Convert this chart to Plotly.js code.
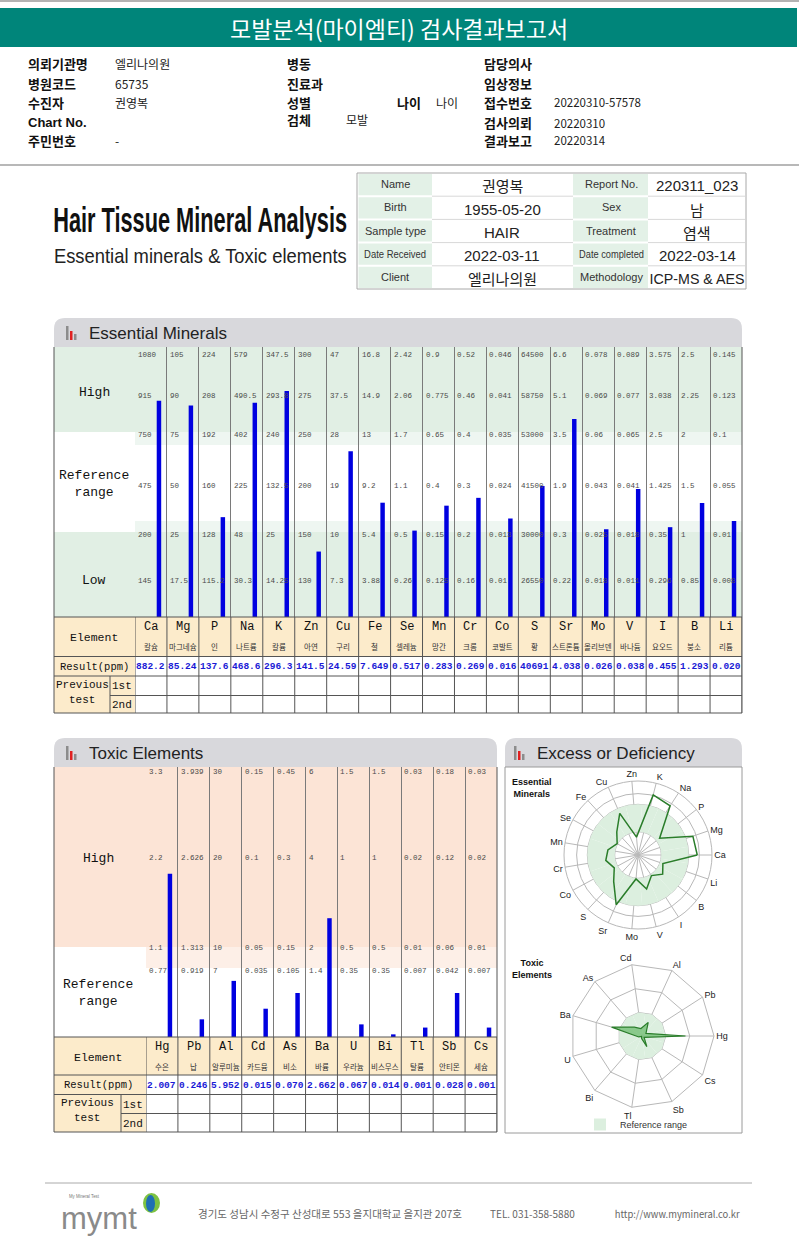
<!DOCTYPE html>
<html><head><meta charset="utf-8">
<script src="https://cdn.plot.ly/plotly-3.0.1.min.js"></script>
<style>html,body{margin:0;padding:0;background:#fff;overflow:hidden}#chart{width:799px;height:1241px}</style>
</head><body><div id="chart"></div>
<script>
// ---------------- DATA ----------------
const ESS_ELEMENTS = ['Ca','Mg','P','Na','K','Zn','Cu','Fe','Se','Mn','Cr','Co','S','Sr','Mo','V','I','B','Li'];
const ESS_NAMES_KR = ['칼슘','마그네슘','인','나트륨','칼륨','아연','구리','철','셀레늄','망간','크롬','코발트','황','스트론튬','몰리브덴','바나듐','요오드','붕소','리튬'];
const ESS_RESULT = [882.2,85.24,137.6,468.6,296.3,141.5,24.59,7.649,0.517,0.283,0.269,0.016,40691,4.038,0.026,0.038,0.455,1.293,0.020];
const ESS_LOW      = [145,17.5,115.2,30.3,14.25,130,7.3,3.88,0.26,0.125,0.16,0.01,26550,0.22,0.018,0.011,0.296,0.85,0.008];
const ESS_REF_LOW  = [200,25,128,48,25,150,10,5.4,0.5,0.15,0.2,0.013,30000,0.3,0.025,0.018,0.35,1,0.01];
const ESS_MID      = [475,50,160,225,132.5,200,19,9.2,1.1,0.4,0.3,0.024,41500,1.9,0.043,0.041,1.425,1.5,0.055];
const ESS_REF_HIGH = [750,75,192,402,240,250,28,13,1.7,0.65,0.4,0.035,53000,3.5,0.06,0.065,2.5,2,0.1];
const ESS_HIGH     = [915,90,208,490.5,293.8,275,37.5,14.9,2.06,0.775,0.46,0.041,58750,5.1,0.069,0.077,3.038,2.25,0.123];
const ESS_TOP      = [1080,105,224,579,347.5,300,47,16.8,2.42,0.9,0.52,0.046,64500,6.6,0.078,0.089,3.575,2.5,0.145];

const TOX_ELEMENTS = ['Hg','Pb','Al','Cd','As','Ba','U','Bi','Tl','Sb','Cs'];
const TOX_NAMES_KR = ['수은','납','알루미늄','카드뮴','비소','바륨','우라늄','비스무스','탈륨','안티몬','세슘'];
const TOX_RESULT = [2.007,0.246,5.952,0.015,0.070,2.662,0.067,0.014,0.001,0.028,0.001];
const TOX_REF    = [0.77,0.919,7,0.035,0.105,1.4,0.35,0.35,0.007,0.042,0.007];
const TOX_LIMIT  = [1.1,1.313,10,0.05,0.15,2,0.5,0.5,0.01,0.06,0.01];
const TOX_HIGH   = [2.2,2.626,20,0.1,0.3,4,1,1,0.02,0.12,0.02];
const TOX_TOP    = [3.3,3.939,30,0.15,0.45,6,1.5,1.5,0.03,0.18,0.03];

const INFO_LEFT_LABELS = ['의뢰기관명','병원코드','수진자','Chart No.','주민번호'];
const INFO_LEFT_VALUES = ['엘리나의원','65735','권영복','','-'];
const INFO_MID_LABELS = ['병동','진료과','성별','검체'];
const INFO_RIGHT_LABELS = ['담당의사','임상정보','접수번호','검사의뢰','결과보고'];
const INFO_RIGHT_VALUES = ['','','20220310-57578','20220310','20220314'];
const BOX_LABELS_1 = ['Name','Birth','Sample type','Date Received','Client'];
const BOX_VALUES_1 = ['권영복','1955-05-20','HAIR','2022-03-11','엘리나의원'];
const BOX_LABELS_2 = ['Report No.','Sex','Treatment','Date completed','Methodology'];
const BOX_VALUES_2 = ['220311_023','남','염색','2022-03-14','ICP-MS & AES'];

// ---------------- LAYOUT HELPERS ----------------
const W=799,H=1241;
const PX=x=>x/W, PY=y=>1-y/H;
const KR='"Noto Sans CJK KR", sans-serif';
const SANS='"Liberation Sans", Arial, sans-serif';
const MONO='"Liberation Mono", "DejaVu Sans Mono", monospace';
const shapes=[], ann=[];
const SQUEEZE={}; // text -> target pixel width (condensed fonts are not installed)
function rect(x0,y0,x1,y1,fill,line,lw,layer){
  shapes.push({type:'rect',xref:'paper',yref:'paper',x0:PX(x0),x1:PX(x1),y0:PY(y1),y1:PY(y0),
    fillcolor:fill||'rgba(0,0,0,0)',line:{color:line||'rgba(0,0,0,0)',width:line?(lw||1):0},layer:layer||'below'});
}
function hline(x0,x1,y,color,w){shapes.push({type:'line',xref:'paper',yref:'paper',x0:PX(x0),x1:PX(x1),y0:PY(y),y1:PY(y),line:{color:color,width:w||1},layer:'above'});}
function vline(x,y0,y1,color,w){shapes.push({type:'line',xref:'paper',yref:'paper',x0:PX(x),x1:PX(x),y0:PY(y0),y1:PY(y1),line:{color:color,width:w||1},layer:'above'});}
function txt(x,y,t,o){o=o||{};ann.push({xref:'paper',yref:'paper',x:PX(x),y:PY(y),text:t,showarrow:false,
  xanchor:o.xa||'left',yanchor:o.ya||'middle',borderpad:0,font:{family:o.f||KR,size:o.s||12,color:o.c||'#222',weight:o.w||'normal'}});}
function roundTop(x0,y0,x1,y1,r,fill){
  const p=`M${PX(x0)},${PY(y1)} L${PX(x0)},${PY(y0+r)} Q${PX(x0)},${PY(y0)} ${PX(x0+r)},${PY(y0)} L${PX(x1-r)},${PY(y0)} Q${PX(x1)},${PY(y0)} ${PX(x1)},${PY(y0+r)} L${PX(x1)},${PY(y1)} Z`;
  shapes.push({type:'path',xref:'paper',yref:'paper',path:p,fillcolor:fill,line:{width:0},layer:'below'});
}
function icon(x,y){
  rect(x,y,x+2.5,y+14,'#8c8c8c');
  rect(x+4,y+5,x+6.5,y+14,'#e02020');
  rect(x+8,y+8,x+10.5,y+14,'#8c8c8c');
}
function fmt(v){ if(v>=10000) return v.toFixed(0); if(v>=100) return v.toFixed(1); if(v>=10) return v.toFixed(2); return v.toFixed(3); }
function toPos(v,levels,pos){
  for(let i=0;i<levels.length-1;i++){ if(v<=levels[i+1]) return pos[i]+(v-levels[i])/(levels[i+1]-levels[i])*(pos[i+1]-pos[i]); }
  return pos[pos.length-1];
}
// vertical scale: pixel height above the chart floor for each reference level
const ESS_LEVEL_POS=[0,39,85,134.5,185,224,267];
const TOX_LEVEL_POS=[0,66,89,179,270];
const essPos=ESS_ELEMENTS.map((e,i)=>toPos(ESS_RESULT[i],[0,ESS_LOW[i],ESS_REF_LOW[i],ESS_MID[i],ESS_REF_HIGH[i],ESS_HIGH[i],ESS_TOP[i]],ESS_LEVEL_POS));
const toxPos=TOX_ELEMENTS.map((e,i)=>toPos(TOX_RESULT[i],[0,TOX_REF[i],TOX_LIMIT[i],TOX_HIGH[i],TOX_TOP[i]],TOX_LEVEL_POS));

// ---------------- PAGE HEADER ----------------
hline(0,799,1,'#9a9a9a',1.5);
rect(0,8,797,47,'#00857a');
txt(399,28,'모발분석(마이엠티) 검사결과보고서',{xa:'center',s:23,c:'#ffffff'});
const ROW_Y=[64,83,102,123,140];
INFO_LEFT_LABELS.forEach((l,i)=>{txt(27,ROW_Y[i],l,{s:13,c:'#111',w:'bold',f:i===3?SANS:KR}); if(INFO_LEFT_VALUES[i]) txt(114,ROW_Y[i],INFO_LEFT_VALUES[i],{s:12,c:'#222'});});
[64,83,102,120].forEach((y,i)=>txt(286,y,INFO_MID_LABELS[i],{s:13,c:'#111',w:'bold'}));
txt(396,102,'나이',{s:13,c:'#111',w:'bold'}); txt(435,102,'나이',{s:12});
txt(345,120,'모발',{s:12});
INFO_RIGHT_LABELS.forEach((l,i)=>{txt(483,ROW_Y[i],l,{s:13,c:'#111',w:'bold'}); if(INFO_RIGHT_VALUES[i]) txt(553,ROW_Y[i],INFO_RIGHT_VALUES[i],{s:11.5,c:'#222'});});
hline(0,799,165,'#a0a0a0',1.5);

// ---------------- TITLE + INFO BOX ----------------
txt(200,219,'Hair Tissue Mineral Analysis',{xa:'center',s:36,c:'#111',f:SANS,w:'bold'}); SQUEEZE['Hair Tissue Mineral Analysis']=294;
txt(200,256,'Essential minerals &amp; Toxic elements',{xa:'center',s:20,c:'#222',f:SANS}); SQUEEZE['Essential minerals & Toxic elements']=293;
rect(357,173,746,289,'#ffffff','#a8a8a8',1);
SQUEEZE['Date Received']=62; SQUEEZE['Date completed']=65;
for(let r=0;r<5;r++){
  const y0=173+r*23.2, y1=y0+23.2;
  rect(358.5,y0+1,432,y1-1,'#e3f1e7');
  rect(573,y0+1,648,y1-1,'#e3f1e7');
  if(r>0){hline(432,573,y0,'#d8d8d8',1); hline(648,745,y0,'#d8d8d8',1);}
  txt(395,y0+11.2,BOX_LABELS_1[r],{xa:'center',s:11,c:'#333',f:SANS});
  txt(611,y0+11.2,BOX_LABELS_2[r],{xa:'center',s:11,c:'#333',f:SANS});
  txt(502,y0+13,BOX_VALUES_1[r],{xa:'center',s:15,c:'#222',f:/[가-힣]/.test(BOX_VALUES_1[r])?KR:SANS});
  txt(697,y0+13,BOX_VALUES_2[r],{xa:'center',s:15,c:'#222',f:/[가-힣]/.test(BOX_VALUES_2[r])?KR:SANS});
}
SQUEEZE['220311_023']=91; SQUEEZE['2022-03-14']=90; SQUEEZE['ICP-MS & AES']=95;
SQUEEZE['1955-05-20']=82; SQUEEZE['2022-03-11']=82;

// ---------------- ESSENTIAL MINERALS PANEL ----------------
const EL=54, ER=742, ECL=135, ETOP=347, EBOT=617;
roundTop(EL,318,ER,347,11,'#d8d8dc');
icon(66,326);
txt(88,334,'Essential Minerals',{s:17,c:'#222',f:SANS});
rect(EL,ETOP,ECL,432,'#e1efe4'); rect(EL,532,ECL,EBOT,'#e1efe4');
rect(ECL,ETOP,ER,432,'#e1efe4'); rect(ECL,432,ER,445,'#eef6f1');
rect(ECL,521,ER,532,'#eef6f1'); rect(ECL,532,ER,EBOT,'#e1efe4');
txt(94,393,'High',{xa:'center',s:13,f:MONO,c:'#111'});
txt(94,484,'Reference<br>range',{xa:'center',s:13,f:MONO,c:'#111'});
txt(94,580,'Low',{xa:'center',s:13,f:MONO,c:'#111'});
const essLevels=[ESS_LOW,ESS_REF_LOW,ESS_MID,ESS_REF_HIGH,ESS_HIGH,ESS_TOP];
ESS_ELEMENTS.forEach((e,i)=>{
  essLevels.forEach((arr,k)=>{
    ann.push({xref:'x',yref:'y',x:e,y:ESS_LEVEL_POS[k+1],xshift:-15,yshift:k===5?-5:-3,xanchor:'left',yanchor:'middle',showarrow:false,
      text:String(arr[i]),font:{family:MONO,size:7.5,color:'#4a4a4a'}});
  });
});
rect(EL,EBOT,ECL,713,'#fcebcb'); rect(ECL,EBOT,ER,656.5,'#fcebcb');
ESS_ELEMENTS.forEach((e,i)=>{
  ann.push({xref:'x',yref:'paper',x:e,y:PY(627),showarrow:false,text:e,font:{family:MONO,size:12,color:'#111'},yanchor:'middle'});
  ann.push({xref:'x',yref:'paper',x:e,y:PY(646),showarrow:false,text:ESS_NAMES_KR[i],font:{family:KR,size:7.5,color:'#333'},yanchor:'middle'});
  ann.push({xref:'x',yref:'paper',x:e,y:PY(666.5),showarrow:false,text:fmt(ESS_RESULT[i]),font:{family:MONO,size:9.5,color:'#1a1ad6',weight:'bold'},yanchor:'middle'});
});
for(let i=0;i<=ESS_ELEMENTS.length;i++){
  shapes.push({type:'line',xref:'x',yref:'paper',x0:i-0.5,x1:i-0.5,y0:PY(713),y1:PY(EBOT),line:{color:'#555',width:1},layer:'above'});
}
hline(EL,ER,EBOT,'#555'); hline(EL,ER,656.5,'#555'); hline(EL,ER,676,'#555'); hline(110,ER,695.5,'#555'); hline(EL,ER,713,'#555');
vline(EL,ETOP,713,'#555'); vline(ER,ETOP,713,'#555'); vline(110,676,713,'#555');
txt(94,637,'Element',{xa:'center',s:11.5,f:MONO,c:'#111'});
txt(94,666.5,'Result(ppm)',{xa:'center',s:10.5,f:MONO,c:'#111'});
txt(82,685,'Previous',{xa:'center',s:11,f:MONO,c:'#111'});
txt(82,700,'test',{xa:'center',s:11,f:MONO,c:'#111'});
txt(122,686,'1st',{xa:'center',s:11,f:MONO,c:'#111'});
txt(122,705,'2nd',{xa:'center',s:11,f:MONO,c:'#111'});

// ---------------- TOXIC ELEMENTS PANEL ----------------
const TL=54, TR=497, TCL=146, TTOP=767, TBOT=1037;
roundTop(TL,738,TR,767,11,'#d8d8dc');
icon(66,746);
txt(88,753,'Toxic Elements',{s:17,c:'#222',f:SANS});
rect(TL,TTOP,TCL,947,'#fce4d6');
rect(TCL,TTOP,TR,947,'#fce4d6'); rect(TCL,947,TR,968,'#fdefe7');
txt(98,858,'High',{xa:'center',s:13,f:MONO,c:'#111'});
txt(98,993,'Reference<br>range',{xa:'center',s:13,f:MONO,c:'#111'});
const toxLevels=[TOX_REF,TOX_LIMIT,TOX_HIGH,TOX_TOP];
TOX_ELEMENTS.forEach((e,i)=>{
  toxLevels.forEach((arr,k)=>{
    ann.push({xref:'x2',yref:'y2',x:e,y:TOX_LEVEL_POS[k+1],xshift:-15,yshift:k===3?-5:0,xanchor:'left',yanchor:'middle',showarrow:false,
      text:String(arr[i]),font:{family:MONO,size:7.5,color:'#4a4a4a'}});
  });
});
rect(TL,TBOT,TCL,1132,'#fcebcb'); rect(TCL,TBOT,TR,1075,'#fcebcb');
TOX_ELEMENTS.forEach((e,i)=>{
  ann.push({xref:'x2',yref:'paper',x:e,y:PY(1047),showarrow:false,text:e,font:{family:MONO,size:12,color:'#111'},yanchor:'middle'});
  ann.push({xref:'x2',yref:'paper',x:e,y:PY(1066),showarrow:false,text:TOX_NAMES_KR[i],font:{family:KR,size:7.5,color:'#333'},yanchor:'middle'});
  ann.push({xref:'x2',yref:'paper',x:e,y:PY(1085),showarrow:false,text:fmt(TOX_RESULT[i]),font:{family:MONO,size:9.5,color:'#1a1ad6',weight:'bold'},yanchor:'middle'});
});
for(let i=0;i<=TOX_ELEMENTS.length;i++){
  shapes.push({type:'line',xref:'x2',yref:'paper',x0:i-0.5,x1:i-0.5,y0:PY(1132),y1:PY(TBOT),line:{color:'#555',width:1},layer:'above'});
}
hline(TL,TR,TBOT,'#555'); hline(TL,TR,1075,'#555'); hline(TL,TR,1094.5,'#555'); hline(121,TR,1113.5,'#555'); hline(TL,TR,1132,'#555');
vline(TL,TTOP,1132,'#555'); vline(TR,TTOP,1132,'#555'); vline(121,1094.5,1132,'#555');
txt(98,1057,'Element',{xa:'center',s:11.5,f:MONO,c:'#111'});
txt(98,1085,'Result(ppm)',{xa:'center',s:10.5,f:MONO,c:'#111'});
txt(87,1103,'Previous',{xa:'center',s:11,f:MONO,c:'#111'});
txt(87,1118,'test',{xa:'center',s:11,f:MONO,c:'#111'});
txt(133,1105,'1st',{xa:'center',s:11,f:MONO,c:'#111'});
txt(133,1124,'2nd',{xa:'center',s:11,f:MONO,c:'#111'});

// ---------------- EXCESS / DEFICIENCY PANEL ----------------
roundTop(505,738,742,767,11,'#d8d8dc');
icon(514,746);
txt(536,753,'Excess or Deficiency',{s:17,c:'#222',f:SANS});
rect(505,767,742,1133,'#ffffff','#9a9a9a',1);
txt(511,788,'Essential<br>Minerals',{s:9,c:'#111',f:SANS,w:'bold'});
txt(511,969,'Toxic<br>Elements',{s:9,c:'#111',f:SANS,w:'bold'});

// ---------------- FOOTER ----------------
hline(45,752,1183,'#aaaaaa',1);
txt(62,1196,'My Mineral Test',{s:6,c:'#777',f:SANS}); SQUEEZE['My Mineral Test']=30;
txt(60,1218,'mymt',{s:31,c:'#8a8a8a',f:SANS});
shapes.push({type:'circle',xref:'paper',yref:'paper',x0:PX(143),x1:PX(160),y0:PY(1213),y1:PY(1193),fillcolor:'#7dc242',line:{width:0},layer:'above'});
shapes.push({type:'circle',xref:'paper',yref:'paper',x0:PX(146),x1:PX(155),y0:PY(1212),y1:PY(1195),fillcolor:'#1f6fb4',line:{width:0},layer:'above'});
txt(197,1213,'경기도 성남시 수정구 산성대로 553 을지대학교 을지관 207호',{s:10.5,c:'#666'});
txt(489,1213,'TEL. 031-358-5880',{s:10,c:'#666'}); SQUEEZE['TEL. 031-358-5880']=92;
txt(610,1213,'http://www.mymineral.co.kr',{s:10,c:'#666'}); SQUEEZE['http://www.mymineral.co.kr']=125;

// ---------------- TRACES ----------------
const traces=[];
traces.push({type:'bar',x:ESS_ELEMENTS,y:essPos,xaxis:'x',yaxis:'y',width:0.14,offset:0.18,marker:{color:'#0000e0',line:{width:0}},showlegend:false,hoverinfo:'skip'});
traces.push({type:'bar',x:TOX_ELEMENTS,y:toxPos,xaxis:'x2',yaxis:'y2',width:0.14,offset:0.18,marker:{color:'#0000e0',line:{width:0}},showlegend:false,hoverinfo:'skip'});
traces.push({type:'barpolar',subplot:'polar',theta:ESS_ELEMENTS,r:ESS_ELEMENTS.map(()=>ESS_LEVEL_POS[4]-ESS_LEVEL_POS[2]),base:ESS_LEVEL_POS[2],
  marker:{color:'#dcefdf',line:{width:0}},showlegend:false,hoverinfo:'skip'});
traces.push({type:'scatterpolar',subplot:'polar',mode:'lines',theta:ESS_ELEMENTS.concat([ESS_ELEMENTS[0]]),r:essPos.concat([essPos[0]]),
  line:{color:'#2a7d2a',width:1.5},showlegend:false,hoverinfo:'skip'});
traces.push({type:'barpolar',subplot:'polar2',theta:TOX_ELEMENTS,r:TOX_ELEMENTS.map(()=>TOX_LEVEL_POS[2]),base:0,name:'Reference range',
  marker:{color:'#dcefdf',line:{width:0}},showlegend:true,hoverinfo:'skip'});
traces.push({type:'scatterpolar',subplot:'polar2',mode:'lines',fill:'toself',fillcolor:'rgba(70,170,70,0.55)',theta:TOX_ELEMENTS.concat([TOX_ELEMENTS[0]]),r:toxPos.concat([toxPos[0]]),
  line:{color:'#2a7d2a',width:1.2},showlegend:false,hoverinfo:'skip'});

const polarCommon=(gs)=>({
  bgcolor:'rgba(0,0,0,0)',gridshape:gs,bargap:0,
  angularaxis:{rotation:0,direction:'counterclockwise',tickfont:{family:SANS,size:9,color:'#222'},gridcolor:'#b8b8b8',linecolor:'#b8b8b8',showline:true,ticks:'',layer:'above traces'},
  radialaxis:{range:[0,270],showticklabels:false,ticks:'',showline:false,gridcolor:'#b8b8b8',layer:'above traces'}
});
const polar1=polarCommon('circular'); polar1.domain={x:[PX(564),PX(712)],y:[PY(929),PY(781)]};
polar1.radialaxis.tickvals=[ESS_LEVEL_POS[2],ESS_LEVEL_POS[4],ESS_LEVEL_POS[5]];
const polar2=polarCommon('linear'); polar2.domain={x:[PX(570),PX(714)],y:[PY(1108),PY(964)]};
polar2.radialaxis.tickvals=[TOX_LEVEL_POS[2],TOX_LEVEL_POS[3]];

const layout={
  width:W,height:H,margin:{l:0,r:0,t:0,b:0},paper_bgcolor:'#ffffff',plot_bgcolor:'rgba(0,0,0,0)',
  showlegend:true,
  legend:{x:PX(580),y:PY(1110),xanchor:'left',yanchor:'top',font:{family:SANS,size:9,color:'#333'},bgcolor:'rgba(0,0,0,0)',itemwidth:30},
  xaxis:{domain:[PX(ECL),PX(ER)],type:'category',categoryarray:ESS_ELEMENTS,range:[-0.5,ESS_ELEMENTS.length-0.5],showticklabels:false,
    showgrid:true,tickson:'boundaries',gridcolor:'#7a7a7a',gridwidth:1,zeroline:false,showline:false,ticks:'',fixedrange:true,anchor:'y'},
  yaxis:{domain:[PY(EBOT),PY(ETOP)],range:[0,270],showgrid:false,showticklabels:false,zeroline:false,showline:false,fixedrange:true,anchor:'x'},
  xaxis2:{domain:[PX(TCL),PX(TR)],type:'category',categoryarray:TOX_ELEMENTS,range:[-0.5,TOX_ELEMENTS.length-0.5],showticklabels:false,
    showgrid:true,tickson:'boundaries',gridcolor:'#7a7a7a',gridwidth:1,zeroline:false,showline:false,ticks:'',fixedrange:true,anchor:'y2'},
  yaxis2:{domain:[PY(TBOT),PY(TTOP)],range:[0,270],showgrid:false,showticklabels:false,zeroline:false,showline:false,fixedrange:true,anchor:'x2'},
  polar:polar1, polar2:polar2,
  shapes:shapes, annotations:ann
};
// condensed typefaces are not installed: horizontally scale the few texts that use one in the original
function squeeze(){
  document.querySelectorAll('#chart text.annotation-text').forEach(t=>{
    const L=SQUEEZE[t.textContent];
    if(!L) return;
    const w0=t.getComputedTextLength();
    if(!(w0>L)) return;
    const s=L/w0, xc=parseFloat(t.getAttribute('x'))||0;
    const prev=t.getAttribute('transform')||'';
    t.setAttribute('transform',prev+` translate(${xc},0) scale(${s},1) translate(${-xc},0)`);
    const g=t.parentNode; const bg=g && g.querySelector('rect.bg');
    if(bg){
      const w=parseFloat(bg.getAttribute('width'))||0, nw=L+2;
      if(w>nw){ bg.setAttribute('x',(parseFloat(bg.getAttribute('x'))||0)+(w-nw)/2); bg.setAttribute('width',nw); }
    }
  });
}
Plotly.newPlot('chart',traces,layout,{staticPlot:true,displayModeBar:false}).then(squeeze);
</script></body></html>
